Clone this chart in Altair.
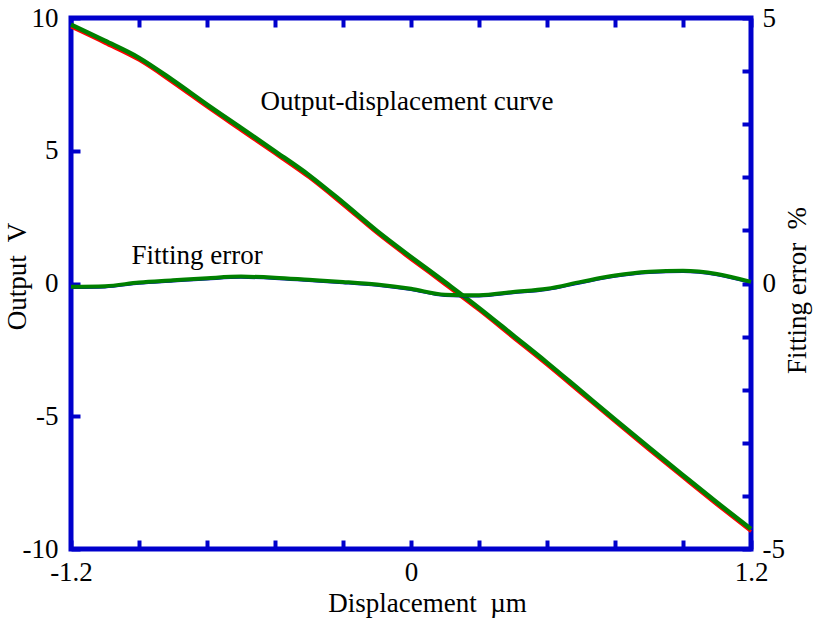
import altair as alt
import pandas as pd

# ---- data ----
x_um = [-1.2, -1.08, -0.96, -0.84, -0.72, -0.6, -0.48, -0.36, -0.24, -0.12, 0.0,
        0.12, 0.24, 0.36, 0.48, 0.6, 0.72, 0.84, 0.96, 1.08, 1.2]
output_v = [9.75, 9.14, 8.50, 7.65, 6.74, 5.86, 4.98, 4.08, 3.05, 1.98, 1.00,
            0.05, -0.92, -1.95, -2.98, -4.05, -5.12, -6.18, -7.22, -8.25, -9.25]
fit_err = [-0.06, -0.05, 0.02, 0.06, 0.10, 0.13, 0.11, 0.07, 0.03, -0.02, -0.10,
           -0.21, -0.22, -0.16, -0.10, 0.03, 0.15, 0.22, 0.24, 0.18, 0.03]

x_ticks = [-1.2, -0.96, -0.72, -0.48, -0.24, 0.0, 0.24, 0.48, 0.72, 0.96, 1.2]
left_ticks = [-10, -5, 0, 5, 10]
right_ticks = [-5, -4, -3, -2, -1, 0, 1, 2, 3, 4, 5]

# annotation texts and their anchors (data units, left axis)
note_text = ["Output-displacement curve", "Fitting error"]
note_x = [-0.014, -0.755]
note_v = [6.53, 0.72]

df = pd.DataFrame({"x": x_um, "v": output_v, "e": fit_err})
notes = pd.DataFrame({"x": note_x, "v": note_v, "t": note_text})

BLUE = "#0000CC"
RED = "#FF0000"
GREEN = "#008000"
FONT = "Liberation Serif"
FS = 27

xscale = alt.Scale(domain=[-1.2, 1.2], nice=False, zero=False)

x_bottom = alt.X(
    "x:Q", scale=xscale,
    axis=alt.Axis(
        orient="bottom", values=x_ticks, format=".1~f",
        labelExpr="abs(datum.value) > 1.19 || abs(datum.value) < 0.01 ? replace(datum.label, '\u2212', '-') : ''",
        offset=-9, tickSize=9, labelPadding=10, labelFlush=False,
        title="Displacement\u00a0 \u00b5m", titleX=356, titleY=63,
        titleBaseline="middle", titleAlign="center",
    ),
)
x_top = alt.X(
    "x:Q", scale=xscale,
    axis=alt.Axis(orient="top", values=x_ticks, labels=False, offset=-9,
                  tickSize=9, title=None),
)

y_left = alt.Y(
    "v:Q", scale=alt.Scale(domain=[-10, 10], nice=False, zero=False),
    axis=alt.Axis(
        orient="left", values=left_ticks, format="d",
        labelExpr="replace(datum.label, '\u2212', '-')",
        offset=-9, tickSize=9, labelPadding=13, labelFlush=False,
        title="Output\u00a0 V", titleAngle=270, titleX=-63, titleY=258,
        titleBaseline="middle", titleAlign="center",
    ),
)
y_right = alt.Y(
    "e:Q", scale=alt.Scale(domain=[-5, 5], nice=False, zero=False),
    axis=alt.Axis(
        orient="right", values=right_ticks, format="d",
        labelExpr="datum.value == 0 || abs(datum.value) == 5 ? replace(datum.label, '\u2212', '-') : ''",
        offset=-9, tickSize=9, labelPadding=11, labelFlush=False,
        title="Fitting error\u00a0 %", titleAngle=270, titleX=55, titleY=272,
        titleBaseline="middle", titleAlign="center",
    ),
)

base = alt.Chart(df)

red_line = base.mark_line(color=RED, strokeWidth=3, yOffset=2.5, interpolate="monotone").encode(x=x_bottom, y=y_left)
green_line = base.mark_line(color=GREEN, strokeWidth=4.5, interpolate="monotone").encode(x=x_bottom, y=y_left)

txt = alt.Chart(notes).mark_text(
    font=FONT, fontSize=27, align="center", baseline="alphabetic", color="black"
).encode(x=x_bottom, y=y_left, text="t:N")

left_group = alt.layer(red_line, green_line, txt)

blue_err = base.mark_line(color=BLUE, strokeWidth=2.5, yOffset=1, interpolate="monotone").encode(x=x_top, y=y_right)
green_err = base.mark_line(color=GREEN, strokeWidth=4, interpolate="monotone").encode(x=x_top, y=y_right)
right_group = alt.layer(blue_err, green_err)

chart = (
    alt.layer(left_group, right_group)
    .resolve_scale(y="independent")
    .resolve_axis(x="independent", y="independent")
    .properties(
        width=680, height=531,
        autosize=alt.AutoSizeParams(type="none"),
        padding={"left": 71, "top": 18, "right": 62, "bottom": 70},
        background="white",
    )
    .configure_view(stroke=BLUE, strokeWidth=5)
    .configure_axis(
        domain=False, grid=False, tickColor=BLUE, tickWidth=4,
        labelFont=FONT, labelFontSize=FS, labelColor="black",
        titleFont=FONT, titleFontSize=FS, titleFontWeight="normal", titleColor="black",
    )
)

chart.save("out.html", embed_options={"renderer": "svg", "actions": False})
